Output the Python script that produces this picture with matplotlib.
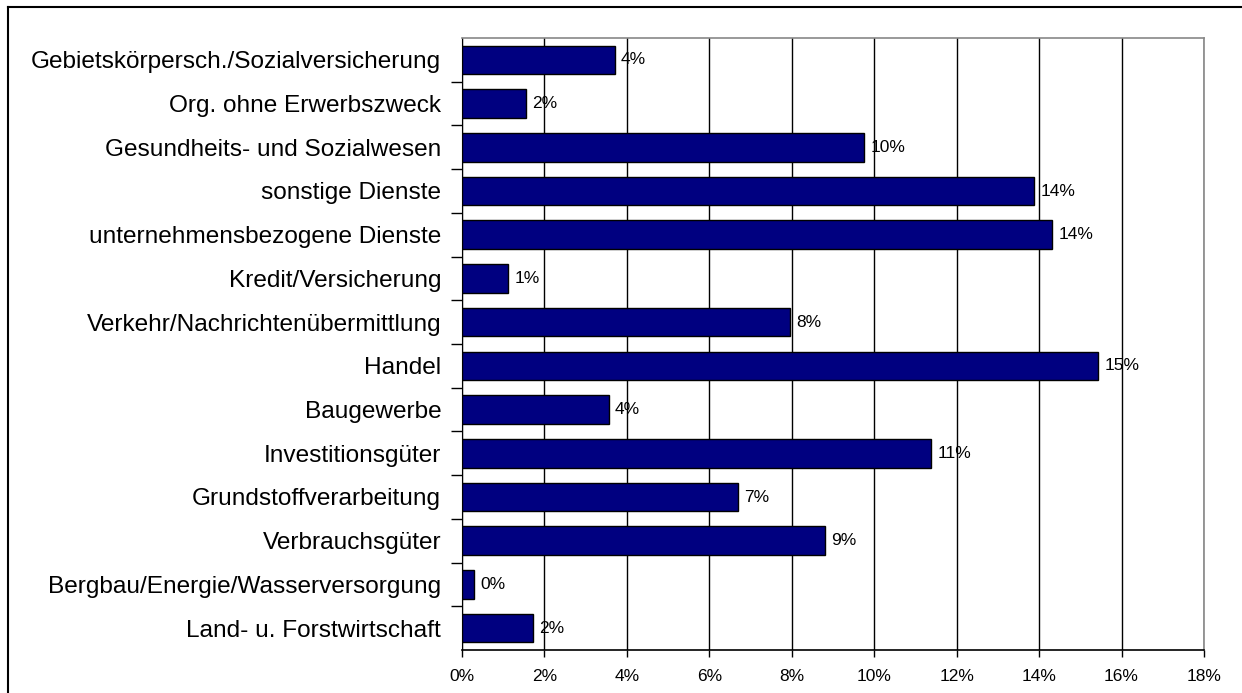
import matplotlib.pyplot as plt
from matplotlib.lines import Line2D
from matplotlib.ticker import FixedLocator, FuncFormatter

plt.rcParams['font.family'] = ['Liberation Sans', 'DejaVu Sans']

# Branchen von unten nach oben
branchen = [
    "Land- u. Forstwirtschaft",
    "Bergbau/Energie/Wasserversorgung",
    "Verbrauchsgüter",
    "Grundstoffverarbeitung",
    "Investitionsgüter",
    "Baugewerbe",
    "Handel",
    "Verkehr/Nachrichtenübermittlung",
    "Kredit/Versicherung",
    "unternehmensbezogene Dienste",
    "sonstige Dienste",
    "Gesundheits- und Sozialwesen",
    "Org. ohne Erwerbszweck",
    "Gebietskörpersch./Sozialversicherung",
]
anteile = [1.72, 0.29, 8.81, 6.69, 11.38, 3.56, 15.43, 7.96, 1.12, 14.32, 13.88, 9.76, 1.56, 3.71]
x_ticks = [0, 2, 4, 6, 8, 10, 12, 14, 16, 18]

fig = plt.figure(figsize=(12.42, 6.93), dpi=100)
ax = fig.add_axes([462 / 1242, 1 - 650 / 693, (1204 - 462) / 1242, (650 - 38) / 693])

pos = list(range(len(branchen)))
ax.barh(pos, anteile, height=0.655, color="#000080", edgecolor="black", linewidth=1, zorder=3)

for y, v in zip(pos, anteile):
    ax.text(v + 0.15, y, f"{v:.0f}%", va="center", ha="left", fontsize=12.5, zorder=4)

ax.set_xlim(0, 18)
ax.set_ylim(-0.5, len(branchen) - 0.5)

ax.xaxis.set_major_locator(FixedLocator(x_ticks))
ax.xaxis.set_major_formatter(FuncFormatter(lambda v, p: f"{v:.0f}%"))
ax.tick_params(axis="x", length=5, width=1, labelsize=12.5, pad=9, color="black")
ax.grid(axis="x", color="black", linewidth=1, zorder=0)

# Kategorienamen in der Mitte, Teilstriche an den Grenzen
ax.set_yticks(pos)
ax.set_yticklabels(branchen, fontsize=17.6)
ax.tick_params(axis="y", which="major", length=0, pad=15)
ax.set_yticks([p + 0.5 for p in pos[:-1]], minor=True)
ax.tick_params(axis="y", which="minor", length=8, width=1, color="black")

ax.spines["left"].set_color("black")
ax.spines["bottom"].set_color("black")
ax.spines["bottom"].set_linewidth(1.2)
ax.spines["top"].set_color("#888888")
ax.spines["right"].set_color("#888888")
ax.spines["top"].set_linewidth(1.2)
ax.spines["right"].set_linewidth(1.2)

# Rahmen um das Diagramm (oben und links)
fig.add_artist(Line2D([8 / 1242, 1.0], [1 - 7 / 693, 1 - 7 / 693], color="black", linewidth=1.5, transform=fig.transFigure))
fig.add_artist(Line2D([8 / 1242, 8 / 1242], [0.0, 1 - 7 / 693], color="black", linewidth=1.5, transform=fig.transFigure))

fig.savefig("out.png", dpi=100)
